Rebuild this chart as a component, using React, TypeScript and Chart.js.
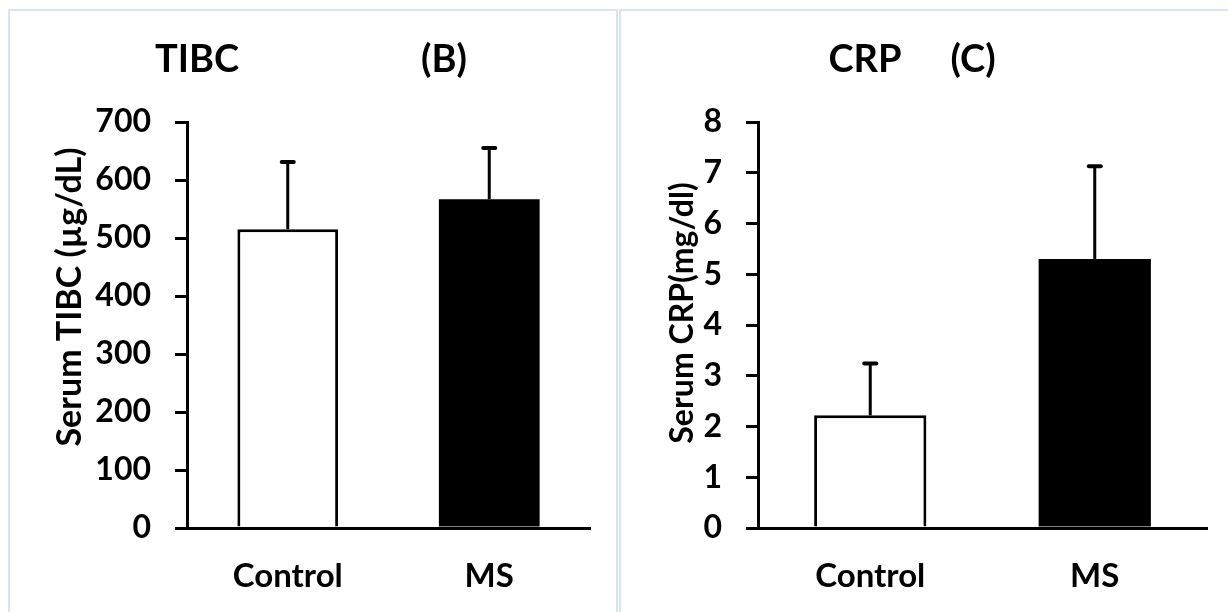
import React, { useEffect, useRef } from "react";
import { Chart, registerables } from "chart.js";

Chart.register(...registerables);

// ---- data ----
const categories = ["Control", "MS"];

const tibcMeans = [515, 567];
const tibcErrors = [116, 88];
const tibcAxis = { min: 0, max: 700, step: 100 };

const crpMeans = [2.22, 5.3];
const crpErrors = [1.02, 1.83];
const crpAxis = { min: 0, max: 8, step: 1 };

const barFills = ["#ffffff", "#000000"];
const barBorders = [3, 0];

const FONT = "Lato";

type PanelProps = {
  means: number[];
  errors: number[];
  axis: { min: number; max: number; step: number };
  titleLeft: string;
  titleRight: string;
  yTitle: string;
  canvasLeft: number;
  canvasWidth: number;
  areaLeft: number;
  areaRight: number;
  titleLeftX: number;
  titleRightX: number;
  yTitleX: number;
  yTitleY: number;
  yTitleSize: number;
};

function Panel(p: PanelProps) {
  const ref = useRef<HTMLCanvasElement | null>(null);

  useEffect(() => {
    const canvas = ref.current;
    if (!canvas) return;
    const H = 612;
    const areaTop = 122;
    const areaBottom = 528;

    const errorPlugin = {
      id: "errorBars",
      afterDatasetsDraw(chart: any) {
        const ctx = chart.ctx;
        const meta = chart.getDatasetMeta(0);
        const ys = chart.scales.y;
        ctx.save();
        ctx.strokeStyle = "#000";
        p.errors.forEach((e, i) => {
          const bar = meta.data[i];
          const x = bar.x;
          const y0 = ys.getPixelForValue(p.means[i]);
          const y1 = ys.getPixelForValue(p.means[i] + e);
          ctx.lineWidth = 3;
          ctx.lineCap = "butt";
          ctx.beginPath();
          ctx.moveTo(x, y0);
          ctx.lineTo(x, y1);
          ctx.stroke();
          ctx.lineWidth = 4;
          ctx.lineCap = "round";
          ctx.beginPath();
          ctx.moveTo(x - 6, y1);
          ctx.lineTo(x + 6, y1);
          ctx.stroke();
        });
        ctx.restore();
      },
    };

    const textPlugin = {
      id: "panelText",
      afterDraw(chart: any) {
        const ctx = chart.ctx;
        ctx.save();
        ctx.fillStyle = "#000";
        ctx.textAlign = "center";
        ctx.textBaseline = "middle";
        ctx.font = `bold 38px ${FONT}`;
        ctx.fillText(p.titleLeft, p.titleLeftX, 60);
        ctx.fillText(p.titleRight, p.titleRightX, 60);
        ctx.translate(p.yTitleX, p.yTitleY);
        ctx.rotate(-Math.PI / 2);
        ctx.font = `bold ${p.yTitleSize}px ${FONT}`;
        ctx.fillText(p.yTitle, 0, 0);
        ctx.restore();
      },
    };

    const chart = new Chart(canvas, {
      type: "bar",
      data: {
        labels: categories,
        datasets: [
          {
            data: p.means,
            backgroundColor: barFills,
            borderColor: "#000000",
            borderWidth: barBorders,
            borderSkipped: "start",
            categoryPercentage: 1,
            barPercentage: 0.5,
          },
        ],
      },
      options: {
        responsive: false,
        animation: false,
        devicePixelRatio: 1,
        events: [],
        layout: {
          padding: {
            left: 0,
            top: areaTop,
            right: p.canvasWidth - p.areaRight,
            bottom: 0,
          },
        },
        plugins: {
          legend: { display: false },
          title: { display: false },
          tooltip: { enabled: false },
        },
        scales: {
          x: {
            grid: { display: true, drawOnChartArea: false, drawTicks: false },
            border: { display: true, color: "#000", width: 3, z: 1 },
            ticks: {
              color: "#000",
              padding: 29,
              font: { family: FONT, weight: "bold", size: 33 },
            },
            afterFit: (scale: any) => {
              scale.height = H - areaBottom;
            },
          },
          y: {
            min: p.axis.min,
            max: p.axis.max,
            grid: {
              drawOnChartArea: false,
              drawTicks: true,
              tickLength: 12,
              color: "#000",
              lineWidth: 3,
            },
            border: { display: true, color: "#000", width: 3, z: 1 },
            ticks: {
              stepSize: p.axis.step,
              color: "#000",
              padding: 24,
              font: { family: FONT, weight: "bold", size: 32 },
            },
            afterFit: (scale: any) => {
              scale.width = p.areaLeft;
            },
          },
        },
      },
      plugins: [errorPlugin, textPlugin],
    } as any);

    return () => chart.destroy();
  }, []);

  return (
    <canvas
      ref={ref}
      width={p.canvasWidth}
      height={612}
      style={{
        position: "absolute",
        left: p.canvasLeft,
        top: 0,
        width: p.canvasWidth,
        height: 612,
      }}
    />
  );
}

export default function App() {
  return (
    <div
      style={{
        position: "absolute",
        left: 0,
        top: 0,
        width: 1228,
        height: 612,
        overflow: "hidden",
        background: "#ffffff",
      }}
    >
      <div
        style={{
          position: "absolute",
          left: 8,
          top: 9,
          width: 610,
          height: 640,
          boxSizing: "border-box",
          border: "2px solid #d9e4f3",
        }}
      />
      <div
        style={{
          position: "absolute",
          left: 619,
          top: 9,
          width: 640,
          height: 640,
          boxSizing: "border-box",
          border: "2px solid #d9e4f3",
        }}
      />
      <Panel
        means={tibcMeans}
        errors={tibcErrors}
        axis={tibcAxis}
        titleLeft="TIBC"
        titleRight="(B)"
        yTitle="Serum TIBC (µg/dL)"
        canvasLeft={0}
        canvasWidth={618}
        areaLeft={187}
        areaRight={590}
        titleLeftX={197}
        titleRightX={444}
        yTitleX={70}
        yTitleY={297}
        yTitleSize={34}
      />
      <Panel
        means={crpMeans}
        errors={crpErrors}
        axis={crpAxis}
        titleLeft="CRP"
        titleRight="(C)"
        yTitle="Serum CRP(mg/dl)"
        canvasLeft={620}
        canvasWidth={608}
        areaLeft={138}
        areaRight={587}
        titleLeftX={245}
        titleRightX={353}
        yTitleX={63}
        yTitleY={313}
        yTitleSize={32}
      />
    </div>
  );
}
